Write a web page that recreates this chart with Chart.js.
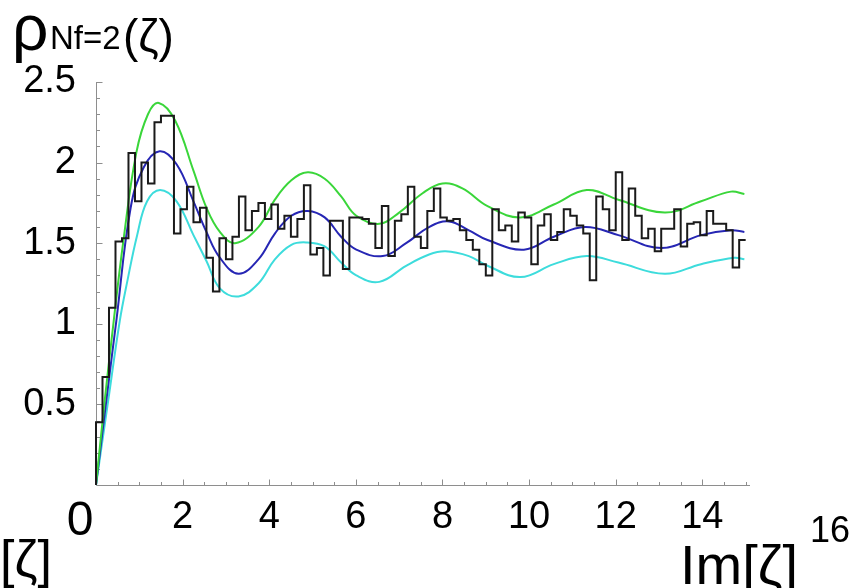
<!DOCTYPE html>
<html>
<head>
<meta charset="utf-8">
<script src="https://cdn.jsdelivr.net/npm/chart.js@4.4.1/dist/chart.umd.min.js"></script>
<style>
  html, body { margin: 0; padding: 0; background: #fff; }
</style>
</head>
<body>
<canvas id="chart" width="856" height="588"></canvas>
<script>
// histogram of the eigenvalue density, bins of width 0.15 from 0
const BIN_WIDTH = 0.15;
const histValues = [
  0.39, 0.67, 1.10, 1.51, 1.53, 2.06, 1.76, 2.00, 1.87, 2.25,
  2.29, 2.29, 1.56, 1.71, 1.85, 1.63, 1.72, 1.41, 1.20, 1.53,
  1.40, 1.54, 1.79, 1.58, 1.70, 1.75, 1.65, 1.74, 1.59, 1.67,
  1.54, 1.65, 1.86, 1.43, 1.47, 1.30, 1.64, 1.64, 1.34, 1.66,
  1.66, 1.65, 1.62, 1.47, 1.73, 1.42, 1.64, 1.68, 1.85, 1.54,
  1.47, 1.70, 1.84, 1.66, 1.64, 1.65, 1.58, 1.52, 1.46, 1.37,
  1.30, 1.71, 1.58, 1.61, 1.51, 1.69, 1.66, 1.37, 1.61, 1.68,
  1.52, 1.57, 1.71, 1.67, 1.61, 1.56, 1.27, 1.79, 1.71, 1.58,
  1.94, 1.52, 1.84, 1.67, 1.53, 1.59, 1.45, 1.59, 1.59, 1.71,
  1.48, 1.62, 1.63, 1.55, 1.70, 1.62, 1.62, 1.58, 1.35, 1.52
];

// analytic curves
const greenX = [0, 0.2, 0.41, 0.63, 0.93, 1.2, 1.45, 1.83, 2.25, 2.55, 2.86, 3.21, 3.75, 4.13, 4.51, 4.89, 5.28, 5.66, 6.01, 6.54, 7.0, 7.54, 8.0, 8.46, 9.04, 9.8, 10.57, 11.33, 12.06, 13.13, 13.97, 14.66, 14.97];
const greenY = [0, 0.52, 1.02, 1.51, 2.06, 2.30, 2.37, 2.26, 1.95, 1.72, 1.57, 1.50, 1.60, 1.77, 1.89, 1.94, 1.90, 1.79, 1.67, 1.62, 1.69, 1.81, 1.87, 1.84, 1.73, 1.66, 1.74, 1.83, 1.77, 1.69, 1.76, 1.82, 1.805];

const blueX = [0, 0.25, 0.47, 0.8, 1.1, 1.47, 1.86, 2.25, 2.55, 2.86, 3.29, 3.75, 4.13, 4.51, 4.89, 5.28, 5.66, 6.01, 6.62, 7.16, 7.69, 8.15, 8.61, 9.04, 9.88, 10.57, 11.29, 12.06, 13.06, 13.97, 14.66, 14.97];
const blueY = [0, 0.55, 1.02, 1.72, 1.97, 2.07, 1.99, 1.76, 1.57, 1.41, 1.31, 1.40, 1.56, 1.67, 1.70, 1.66, 1.54, 1.46, 1.42, 1.50, 1.60, 1.635, 1.58, 1.52, 1.46, 1.54, 1.60, 1.55, 1.47, 1.55, 1.58, 1.57];

const cyanX = [0, 0.28, 0.55, 0.72, 0.95, 1.18, 1.48, 1.86, 2.25, 2.55, 2.86, 3.29, 3.75, 4.13, 4.51, 4.85, 5.28, 5.66, 6.01, 6.54, 7.16, 7.69, 8.07, 8.61, 9.04, 9.8, 10.57, 11.33, 12.06, 13.13, 13.97, 14.74, 14.97];
const cyanY = [0, 0.52, 1.02, 1.26, 1.55, 1.76, 1.83, 1.76, 1.55, 1.39, 1.22, 1.17, 1.25, 1.40, 1.49, 1.505, 1.48, 1.38, 1.30, 1.26, 1.36, 1.43, 1.45, 1.42, 1.36, 1.29, 1.37, 1.42, 1.38, 1.31, 1.37, 1.41, 1.40];

// axes
const X_MAX = 15.1;
const Y_MAX = 2.5;
const xTicks = [2, 4, 6, 8, 10, 12, 14];
const yTicks = [0.5, 1, 1.5, 2, 2.5];
const yTickLabels = ["0.5", "1", "1.5", "2", "2.5"];

const FONT = "'Liberation Sans', Arial, sans-serif";

function toPoints(xs, ys) {
  return xs.map((x, i) => ({ x: x, y: ys[i] }));
}

// step outline: start at the origin, one point per bin left edge, close at the last right edge
function histPoints(values) {
  const pts = [{ x: 0, y: 0 }];
  values.forEach((v, i) => pts.push({ x: i * BIN_WIDTH, y: v }));
  pts.push({ x: values.length * BIN_WIDTH, y: values[values.length - 1] });
  return pts;
}

// Mathematica-like axes: grey lines, inward ticks
const axesPlugin = {
  id: "axes",
  beforeDatasetsDraw(chart) {
    const ctx = chart.ctx;
    const xs = chart.scales.x;
    const ys = chart.scales.y;
    const ox = Math.round(xs.getPixelForValue(0)) + 0.5;
    const oy = Math.round(ys.getPixelForValue(0)) + 0.5;
    ctx.save();
    ctx.strokeStyle = "#8e8e8e";
    ctx.lineWidth = 1;
    ctx.beginPath();
    ctx.moveTo(ox, oy);
    ctx.lineTo(xs.right, oy);
    ctx.moveTo(ox, oy);
    ctx.lineTo(ox, ys.getPixelForValue(Y_MAX));
    // x ticks every 0.5, major every 2
    for (let v = 0.5; v <= X_MAX; v += 0.5) {
      const px = Math.round(xs.getPixelForValue(v)) + 0.5;
      const len = v % 2 === 0 ? 6 : 3.5;
      ctx.moveTo(px, oy);
      ctx.lineTo(px, oy - len);
    }
    // y ticks every 0.1, major every 0.5
    for (let k = 1; k <= 25; k++) {
      const py = Math.round(ys.getPixelForValue(k / 10)) + 0.5;
      const len = k % 5 === 0 ? 6 : 3.5;
      ctx.moveTo(ox, py);
      ctx.lineTo(ox + len, py);
    }
    ctx.stroke();
    ctx.restore();
  },
  afterDraw(chart) {
    const ctx = chart.ctx;
    const xs = chart.scales.x;
    const ys = chart.scales.y;
    ctx.save();
    ctx.fillStyle = "#000";

    // x tick labels
    ctx.font = "38px " + FONT;
    ctx.textAlign = "center";
    ctx.textBaseline = "alphabetic";
    xTicks.forEach(v => ctx.fillText(String(v), xs.getPixelForValue(v), 528));

    // y tick labels
    ctx.textAlign = "right";
    ctx.textBaseline = "middle";
    yTicks.forEach((v, i) => ctx.fillText(yTickLabels[i], 76, ys.getPixelForValue(v)));

    // origin label and the stray pieces of the frame labels
    ctx.textBaseline = "alphabetic";
    ctx.textAlign = "center";
    ctx.font = "48px " + FONT;
    ctx.fillText("0", 80, 535);
    ctx.textAlign = "left";
    ctx.font = "36px " + FONT;
    ctx.fillText("16", 810, 542);
    ctx.font = "52px " + FONT;
    ctx.fillText("[\u03b6]", 0, 577);
    ctx.font = "56px " + FONT;
    ctx.fillText("Im[\u03b6]", 680, 584);

    // y axis title
    ctx.font = "64px " + FONT;
    ctx.fillText("\u03c1", 12, 50);
    ctx.font = "33px " + FONT;
    ctx.fillText("Nf=2", 50, 49);
    ctx.font = "46px " + FONT;
    ctx.fillText("(\u03b6)", 123, 52);
    ctx.restore();
  }
};

const curveStyle = {
  fill: false,
  pointRadius: 0,
  borderWidth: 2,
  tension: 0.4,
  clip: false
};

new Chart(document.getElementById("chart").getContext("2d"), {
  type: "line",
  data: {
    datasets: [
      {
        label: "histogram",
        data: histPoints(histValues),
        borderColor: "#1a1a1a",
        borderWidth: 2,
        stepped: true,
        pointRadius: 0,
        fill: false,
        clip: false
      },
      { label: "upper", data: toPoints(greenX, greenY), borderColor: "#3ad63a", ...curveStyle },
      { label: "middle", data: toPoints(blueX, blueY), borderColor: "#2626b4", ...curveStyle },
      { label: "lower", data: toPoints(cyanX, cyanY), borderColor: "#3ddcdc", ...curveStyle }
    ]
  },
  options: {
    responsive: false,
    animation: false,
    layout: { padding: { left: 96, top: 82, right: 106, bottom: 103 } },
    plugins: {
      legend: { display: false },
      tooltip: { enabled: false }
    },
    scales: {
      x: { type: "linear", min: 0, max: X_MAX, display: false },
      y: { type: "linear", min: 0, max: Y_MAX, display: false }
    }
  },
  plugins: [axesPlugin]
});
</script>
</body>
</html>
